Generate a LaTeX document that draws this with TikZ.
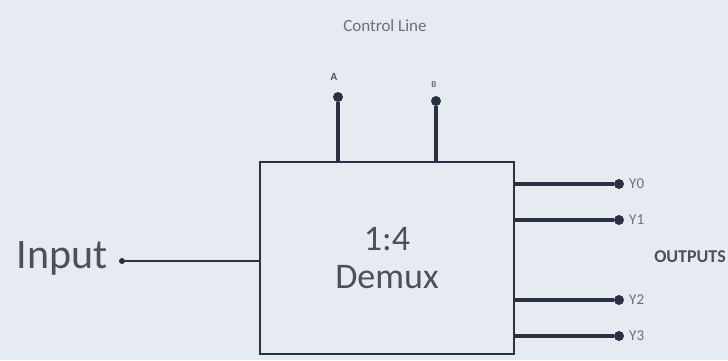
\documentclass[tikz,border=0pt]{standalone}
\usepackage{fontspec}
\setmainfont{Carlito}
\definecolor{bgc}{HTML}{E6EBF2}
\definecolor{linec}{HTML}{2A3142}
\definecolor{txtc}{HTML}{4A505C}
\definecolor{lbl}{HTML}{6A707C}
\begin{document}
\begin{tikzpicture}[x=1pt,y=-1pt,
  dot/.style={circle,fill=linec,inner sep=0pt,minimum size=10pt},
  smalldot/.style={circle,fill=linec,inner sep=0pt,minimum size=6pt},
  wire/.style={draw=linec,line width=3.2pt},
  thinwire/.style={draw=linec,line width=1.8pt},
  lab/.style={text=lbl,font=\fontsize{15}{17}\selectfont,anchor=west,inner sep=0pt}]
\fill[bgc] (0,0) rectangle (728,360);
\useasboundingbox (0,0) rectangle (728,360);
\node[draw=linec,line width=2.2pt,minimum width=254pt,minimum height=192pt,inner sep=0pt,
  align=center,text=txtc,font=\fontsize{36}{38}\selectfont] (box) at (387,258) {1:4\\Demux};
% control line
\node[text=lbl,font=\fontsize{17}{19}\selectfont] (ctl) at (385,26) {Control Line};
\node[dot] (A) at (338,97) {};
\node[dot] (B) at (436,101) {};
\node[text=txtc,font=\fontsize{11}{13}\selectfont\bfseries] (la) at (334,77) {A};
\node[text=lbl,font=\fontsize{9}{11}\selectfont\bfseries] (lb) at (434,85) {B};
\draw[wire] (A) -- (A |- box.north);
\draw[wire] (B) -- (B |- box.north);
% input
\node[text=txtc,font=\fontsize{42}{46}\selectfont,anchor=east,inner sep=0pt] (in) at (108,258) {Input};
\node[smalldot] (ind) at (122,261) {};
\draw[thinwire] (ind) -- (ind -| box.west);
% outputs
\foreach \n/\yy in {0/184,1/220,2/300,3/336}{
  \node[dot] (Y\n) at (619,\yy) {};
  \coordinate (S\n) at (box.east |- Y\n);
  \draw[wire] (S\n) -- (Y\n);
  \node[lab] (L\n) at (629,\yy) {Y\n};
}
\node[text=txtc,font=\fontsize{18}{20}\selectfont\bfseries] (out) at (690,257) {OUTPUTS};
\end{tikzpicture}
\end{document}
